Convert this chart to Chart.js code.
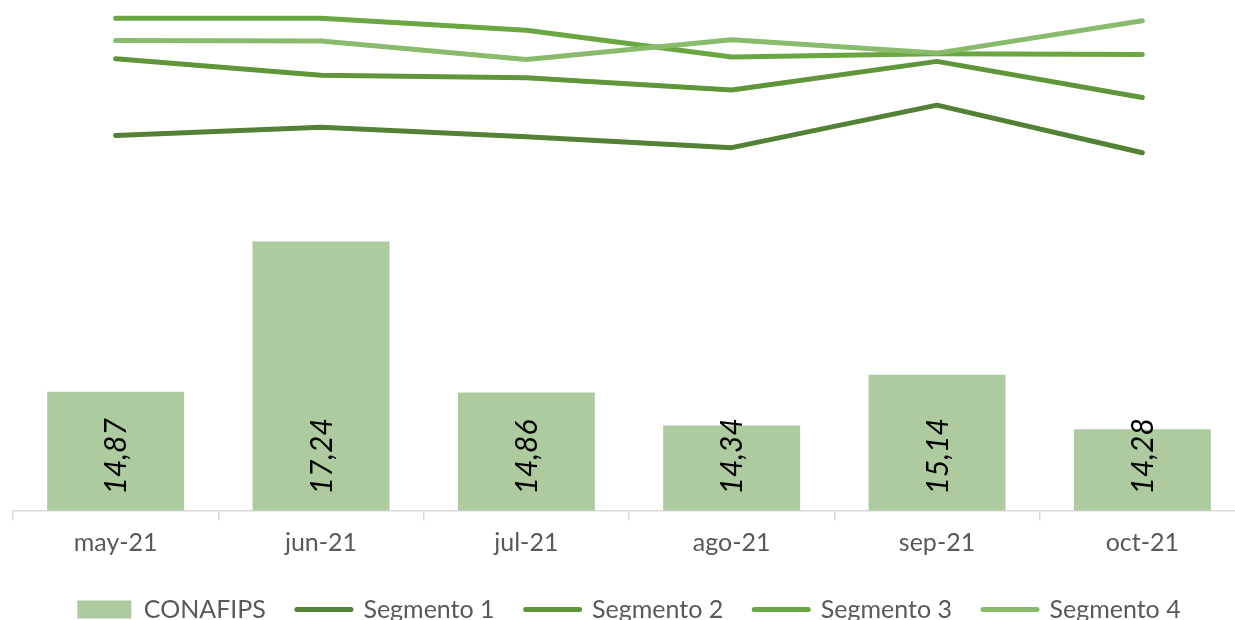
<!DOCTYPE html>
<html>
<head>
<meta charset="utf-8">
<script src="https://cdn.jsdelivr.net/npm/chart.js@4/dist/chart.umd.min.js"></script>
<style>
  html, body { margin: 0; padding: 0; background: #fff; overflow: hidden; }
  #wrap { position: relative; width: 1247px; height: 632px; }
</style>
</head>
<body>
<div id="wrap"><canvas id="chart"></canvas></div>
<script>
  // values
  const months = ["may-21", "jun-21", "jul-21", "ago-21", "sep-21", "oct-21"];
  const conafips = [14.87, 17.24, 14.86, 14.34, 15.14, 14.28];
  const segmento1 = [18.91, 19.04, 18.89, 18.72, 19.39, 18.64];
  const segmento2 = [20.12, 19.86, 19.82, 19.63, 20.08, 19.51];
  const segmento3 = [20.76, 20.76, 20.57, 20.15, 20.20, 20.19];
  const segmento4 = [20.41, 20.40, 20.11, 20.42, 20.21, 20.72];

  const FONT = "Lato, 'Open Sans', sans-serif";
  const GREY = "#595959";

  // rotated value labels sitting at the base of each bar
  const barLabels = {
    id: "barLabels",
    afterDraw(chart) {
      const meta = chart.getDatasetMeta(0);
      const ctx = chart.ctx;
      const baseY = chart.scales.x.top;
      ctx.save();
      ctx.font = "italic 30px " + FONT;
      ctx.fillStyle = "#000";
      ctx.textAlign = "left";
      ctx.textBaseline = "middle";
      meta.data.forEach((el, i) => {
        ctx.save();
        ctx.translate(el.x + 1, baseY - 16);
        ctx.rotate(-Math.PI / 2);
        ctx.fillText(conafips[i].toFixed(2).replace(".", ","), 0, 0);
        ctx.restore();
      });
      ctx.restore();
    }
  };

  function line(label, data, color, order) {
    return { type: "line", label, data, borderColor: color, backgroundColor: color,
      borderWidth: 5, pointRadius: 0, borderCapStyle: "round", borderJoinStyle: "round",
      tension: 0, order };
  }

  new Chart(document.getElementById("chart"), {
    data: {
      labels: months,
      datasets: [
        { type: "bar", label: "CONAFIPS", data: conafips, backgroundColor: "#aecb9f",
          borderWidth: 0, barPercentage: 0.667, categoryPercentage: 1, order: 10 },
        line("Segmento 1", segmento1, "#538135", 4),
        line("Segmento 2", segmento2, "#5f9639", 3),
        line("Segmento 3", segmento3, "#6aa641", 2),
        line("Segmento 4", segmento4, "#8abb6d", 1)
      ]
    },
    options: {
      responsive: true, maintainAspectRatio: false, animation: false,
      layout: { padding: { top: 3, left: 13, right: 2, bottom: 0 } },
      plugins: {
        tooltip: { enabled: false },
        legend: {
          position: "bottom",
          labels: {
            usePointStyle: true, pointStyleWidth: 54, boxHeight: 18,
            padding: 31, color: GREY, font: { family: FONT, size: 25 },
            sort: (a, b) => a.datasetIndex - b.datasetIndex,
            generateLabels(chart) {
              return chart.data.datasets.map((ds, i) => ({
                text: ds.label, datasetIndex: i,
                fillStyle: ds.backgroundColor, strokeStyle: ds.borderColor || ds.backgroundColor,
                lineWidth: ds.type === "line" ? 5 : 0, lineCap: "round",
                pointStyle: ds.type === "line" ? "line" : "rect",
                fontColor: GREY, hidden: false
              }));
            }
          }
        }
      },
      scales: {
        x: {
          grid: { drawOnChartArea: false, color: "#d9d9d9", tickLength: 10, lineWidth: 1.5 },
          border: { color: "#d9d9d9", width: 1.5 },
          ticks: { color: GREY, font: { family: FONT, size: 25, lineHeight: 0.42 }, padding: 17.5 }
        },
        y: { display: false, min: 13, max: 21 }
      }
    },
    plugins: [barLabels]
  });
</script>
</body>
</html>
